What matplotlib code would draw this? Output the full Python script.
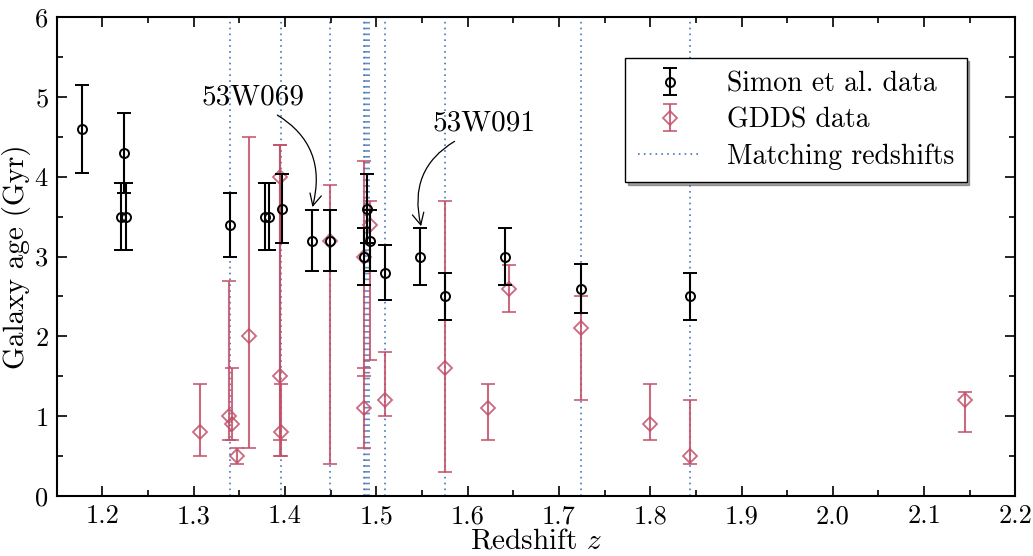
import numpy as np
import matplotlib
matplotlib.use("Agg")
from matplotlib import pyplot as plt
from matplotlib.ticker import MultipleLocator

plt.rcParams["font.family"] = ["cmr10", "DejaVu Serif"]
plt.rcParams["mathtext.fontset"] = "cm"
plt.rcParams["axes.formatter.use_mathtext"] = True
plt.rcParams["font.size"] = 19

# Simon et al. galaxies (redshift, age in Gyr, symmetric error)
simon_z = [1.178, 1.2235, 1.2203, 1.2254, 1.340, 1.3776, 1.3827, 1.397, 1.430,
           1.449, 1.4895, 1.4925, 1.4865, 1.509, 1.548, 1.575, 1.641, 1.724, 1.844]
simon_age = [4.6, 4.3, 3.5, 3.5, 3.4, 3.5, 3.5, 3.6, 3.2,
             3.2, 3.6, 3.2, 3.0, 2.8, 3.0, 2.5, 3.0, 2.6, 2.5]
simon_err = [0.55, 0.5, 0.42, 0.42, 0.4, 0.42, 0.42, 0.43, 0.38,
             0.38, 0.43, 0.38, 0.36, 0.34, 0.36, 0.3, 0.36, 0.31, 0.3]

# GDDS galaxies (asymmetric errors)
gdds_z = [1.307, 1.339, 1.342, 1.347, 1.360, 1.394, 1.395, 1.396, 1.449, 1.487,
          1.4925, 1.486, 1.509, 1.575, 1.622, 1.645, 1.724, 1.800, 1.844, 2.145]
gdds_age = [0.8, 1.0, 0.9, 0.5, 2.0, 4.0, 1.5, 0.8, 3.2, 3.0,
            3.4, 1.1, 1.2, 1.6, 1.1, 2.6, 2.1, 0.9, 0.5, 1.2]
gdds_lo = [0.3, 0.3, 0.2, 0.1, 1.4, 3.5, 0.8, 0.3, 2.8, 1.5,
           1.7, 0.5, 0.2, 1.3, 0.4, 0.3, 0.9, 0.2, 0.1, 0.4]
gdds_hi = [0.6, 1.7, 0.7, 0.1, 2.5, 0.4, 2.9, 0.6, 0.7, 1.2,
           0.3, 0.5, 0.6, 2.1, 0.3, 0.3, 0.4, 0.5, 0.7, 0.1]

# redshifts found in both samples
match_z = [1.340, 1.396, 1.449, 1.486, 1.488, 1.490, 1.492, 1.509, 1.575, 1.724, 1.844]

red = "#c24f68"
blue = "#4677b8"

fig = plt.figure(figsize=(10.33, 5.56), dpi=100)
ax = fig.add_axes([0.055, 0.108, 0.928, 0.861])

for i, z in enumerate(match_z):
    ax.axvline(z, color=blue, ls=(0, (1, 2.5)), lw=1.2, zorder=1,
               label="Matching redshifts" if i == 0 else None)

ax.errorbar(gdds_z, gdds_age, yerr=[gdds_lo, gdds_hi], fmt="D", ms=7,
            mfc="none", mec=red, mew=1.3, ecolor=red, elinewidth=1.5,
            capsize=5, capthick=1.3, alpha=0.85, zorder=2, label="GDDS data")
ax.errorbar(simon_z, simon_age, yerr=simon_err, fmt="o", ms=6.5,
            mfc="none", mec="black", mew=1.4, ecolor="black",
            elinewidth=1.5, capsize=5, capthick=1.5, zorder=3,
            label="Simon et al. data")

ax.annotate("53W069", xy=(1.430, 3.62), xytext=(1.365, 5.0), ha="center", va="center",
            fontsize=21,
            arrowprops=dict(arrowstyle="->", color="black", lw=0.9,
                            relpos=(0.65, 0), shrinkA=3, shrinkB=0,
                            connectionstyle="arc3,rad=-0.4"))
ax.annotate("53W091", xy=(1.549, 3.38), xytext=(1.618, 4.67), ha="center", va="center",
            fontsize=21,
            arrowprops=dict(arrowstyle="->", color="black", lw=0.9,
                            relpos=(0.3, 0), shrinkA=3, shrinkB=0,
                            connectionstyle="arc3,rad=0.4"))

ax.set_xlim(1.15, 2.2)
ax.set_ylim(0, 6)
ax.xaxis.set_major_locator(MultipleLocator(0.1))
ax.xaxis.set_minor_locator(MultipleLocator(0.05))
ax.yaxis.set_major_locator(MultipleLocator(1))
ax.yaxis.set_minor_locator(MultipleLocator(0.5))
ax.xaxis.set_major_formatter(plt.FuncFormatter(lambda v, p: f"{v:.1f}"))
ax.tick_params(which="both", direction="in", top=True, right=True, width=1.2,
               labelsize=19)
ax.tick_params(which="major", length=7, pad=6)
ax.tick_params(which="minor", length=4)
for s in ax.spines.values():
    s.set_linewidth(1.5)

ax.set_xlabel("Redshift $z$", fontsize=21, labelpad=0)
ax.set_ylabel("Galaxy age (Gyr)", fontsize=21, labelpad=2)

handles, labels = ax.get_legend_handles_labels()
order = [labels.index(l) for l in ["Simon et al. data", "GDDS data", "Matching redshifts"]]
leg = ax.legend([handles[i] for i in order], [labels[i] for i in order],
                loc="upper right", bbox_to_anchor=(0.949, 0.914), borderaxespad=0,
                fancybox=False, shadow=True, framealpha=1, edgecolor="black",
                fontsize=20, handlelength=2.3, handletextpad=0.9,
                borderpad=0.45, labelspacing=0.35)
leg.get_frame().set_linewidth(1.0)

fig.savefig("out.png", dpi=100)
